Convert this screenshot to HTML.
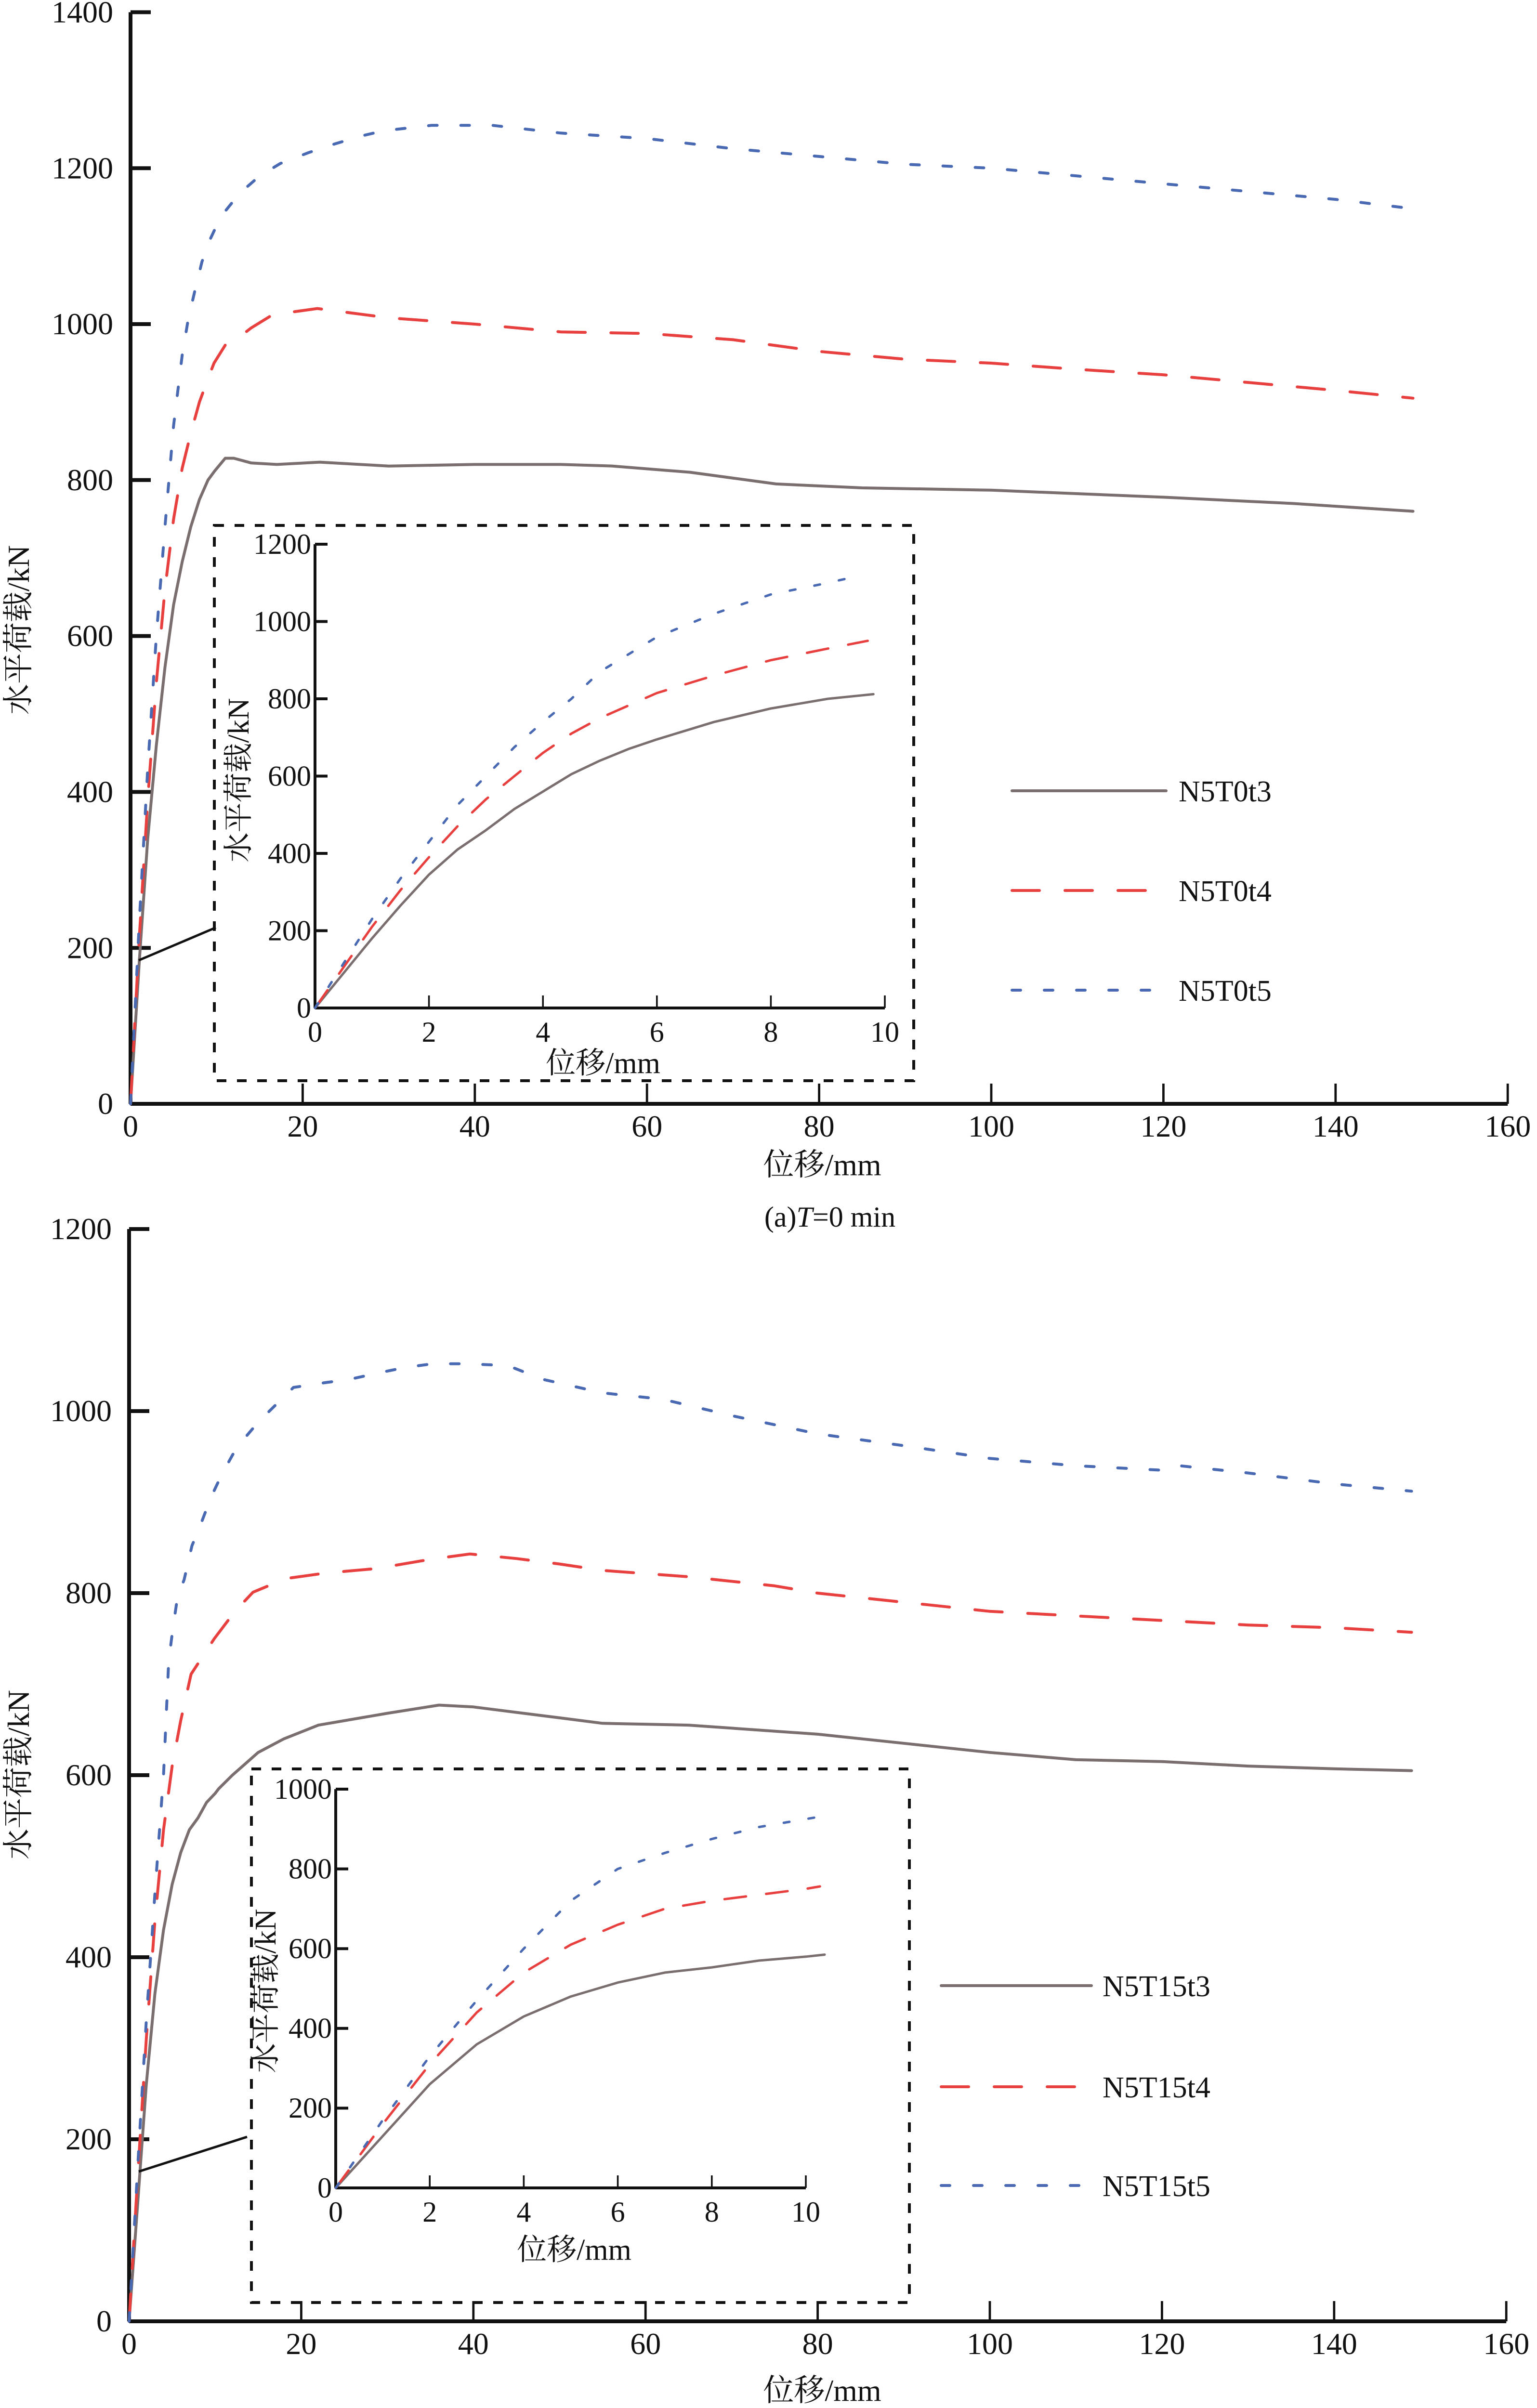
<!DOCTYPE html>
<html><head><meta charset="utf-8"><style>
html,body{margin:0;padding:0;background:#fff;width:3191px;height:5131px;overflow:hidden;}
svg{display:block;}
text{font-family:"Liberation Serif","Noto Serif CJK SC",serif;fill:#111;}
</style></head><body>
<svg id="fig" width="3191" height="5131" viewBox="0 0 3191 5131" xmlns="http://www.w3.org/2000/svg"></svg>
<script>
// ---------- data: chart (a) T=0 min ----------
const aT3X=[0,1,2,3,4,5,6,7,8,9,9.8,11,12,14,17,22,30,40,50,56,65,75,85,100,120,135,149];
const aT3Y=[0,180,340,460,560,640,695,740,775,800,812,828,828,822,820,823,818,820,820,818,810,795,790,787,778,770,760];
const aT4X=[0,1,2,3,4,5,6,7,8,9,9.7,11,12,14,16.5,21.7,30,40,50,60,70,80,90,100,110,120,130,140,149];
const aT4Y=[0,210,390,540,660,750,815,860,900,930,950,973,978,995,1012,1020,1008,1000,990,988,980,965,955,950,942,935,925,915,905];
const aT5X=[0,1,2,3,4,5,6,6.7,7.5,8.3,9.3,10.5,12.7,15,17.4,20.7,23.7,26.7,29.4,35,42,50,60,70,80,90,100,110,120,130,140,149];
const aT5Y=[0,230,430,600,740,870,960,1006,1044,1080,1110,1138,1168,1190,1206,1220,1231,1241,1248,1255,1255,1245,1238,1225,1215,1205,1200,1190,1180,1170,1160,1148];
// inset (a) data (0-10 mm)
const aiT3X=[0,0.5,1,1.5,2,2.5,3,3.5,4,4.5,5,5.5,6,7,8,9,9.8];
const aiT3Y=[0,90,180,265,345,410,460,515,560,605,640,670,695,740,775,800,812];
const aiT4X=[0,0.5,1,1.5,2,2.5,3,3.5,4,4.5,5,6,7,8,9,9.7];
const aiT4Y=[0,105,210,305,390,470,540,600,660,710,750,815,860,900,930,950];
const aiT5X=[0,0.5,1,1.5,2,2.5,3,3.5,4,4.5,5,6,7,8,9,9.3];
const aiT5Y=[0,115,230,335,430,525,600,675,740,800,870,960,1020,1070,1100,1110];
// ---------- data: chart (b) T=150 min ----------
const bT3X=[0,1,2,3,4,5,6,7,8,9,10,10.4,12,15,18,22,30,36,40,50,55,65,80,90,100,110,120,130,140,149];
const bT3Y=[0,130,260,360,430,480,515,540,553,570,580,585,600,625,640,655,668,677,675,663,657,655,645,635,625,617,615,610,607,605];
const bT4X=[0,1,2,3,4,5,6,7.2,9.9,12.3,14.4,18.2,22.8,28.7,34.9,39.6,45,50,55,65,75,80,90,100,110,120,130,140,149];
const bT4Y=[0,160,310,440,540,610,660,711,750,780,801,816,822,827,837,843,838,832,825,818,808,800,790,780,775,770,765,762,757];
const bT5X=[0,1,2,3,4,4.6,5.1,5.6,6.4,7.3,8.3,9.5,10.8,12.5,14.3,16.3,19.1,22.6,25.7,29,32.1,35.3,39.2,44,48,55,62,70,80,90,100,110,120,122,130,140,149];
const bT5Y=[0,170,330,470,600,725,762,794,815,852,875,905,931,960,980,1000,1026,1031,1035,1042,1048,1052,1052,1050,1035,1020,1013,995,975,962,948,940,935,940,932,920,912];
const biT3X=[0,1,2,3,4,5,6,7,8,9,10,10.4];
const biT3Y=[0,130,260,360,430,480,515,540,553,570,580,585];
const biT4X=[0,1,2,3,4,5,6,7,8,9,10,10.3];
const biT4Y=[0,160,310,440,540,610,660,700,720,735,750,756];
const biT5X=[0,1,2,3,4,5,6,7,8,9,10,10.5];
const biT5Y=[0,170,330,470,600,720,800,840,875,905,925,935];
// tick labels
const mainXTicks=[0,20,40,60,80,100,120,140,160];
const aMainYTicks=[0,200,400,600,800,1000,1200,1400];
const bMainYTicks=[0,200,400,600,800,1000,1200];
const insetXTicks=[0,2,4,6,8,10];
const aInsetYTicks=[0,200,400,600,800,1000,1200];
const bInsetYTicks=[0,200,400,600,800,1000];
const aNames=["N5T0t3","N5T0t4","N5T0t5"];
const bNames=["N5T15t3","N5T15t4","N5T15t5"];

const NS="http://www.w3.org/2000/svg";
const svg=document.getElementById('fig');
function mk(tag,attrs,parent,txt){const e=document.createElementNS(NS,tag);for(const k in attrs)e.setAttribute(k,attrs[k]);if(txt!==undefined)e.textContent=txt;(parent||svg).appendChild(e);return e;}
const STY=[{c:"#7a6e6e",d:null},{c:"#e8403f",d:"57 53"},{c:"#4a69b3",d:"18 49"}];
const STYI=[{c:"#7a6e6e",d:null},{c:"#e8403f",d:"45 42"},{c:"#4a69b3",d:"12 40"}];

function axes(g,o){
  const sx=v=>o.x0+(v-o.xmin)/(o.xmax-o.xmin)*(o.x1-o.x0);
  const sy=v=>o.y0-(v-o.ymin)/(o.ymax-o.ymin)*(o.y0-o.y1);
  const ax=mk('line',{x1:o.x0,y1:o.y0,x2:sx(o.xmax),y2:o.y0,stroke:"#111","stroke-width":o.sw},g);
  
  const ay=mk('line',{x1:o.x0,y1:o.y0,x2:o.x0,y2:sy(o.ymax),stroke:"#111","stroke-width":o.sw},g);
  
  o.xt.forEach(v=>{
    const t=mk('line',{x1:sx(v),y1:o.y0,x2:sx(v),y2:o.y0-o.tl,stroke:"#111","stroke-width":o.sw*0.6},g);
    
    const l=mk('text',{x:sx(v),y:o.y0+o.xly,"font-size":o.fs,"text-anchor":"middle"},g,String(v));
    
  });
  o.yt.forEach(v=>{
    const t=mk('line',{x1:o.x0,y1:sy(v),x2:o.x0+o.tl,y2:sy(v),stroke:"#111","stroke-width":o.sw},g);
    
    const l=mk('text',{x:o.x0-o.ylx,y:sy(v)+o.fs*0.33,"font-size":o.fs,"text-anchor":"end"},g,String(v));
    
  });
  return {sx,sy};
}
function series(g,sc,xs,ys,st,w,name){
  const d=xs.map((x,i)=>(i?'L':'M')+sc.sx(x).toFixed(1)+' '+sc.sy(ys[i]).toFixed(1)).join(' ');
  const p=mk('path',{d:d,fill:"none",stroke:st.c,"stroke-width":w,"stroke-linecap":"round","stroke-linejoin":"round"},g);
  if(st.d)p.setAttribute('stroke-dasharray',st.d);
  
}
function panel(P){
  const g=mk('g',{});
  
  const sc=axes(g,{pre:P.id+'-',x0:P.x0,x1:P.x0+160*17.87,y0:P.y0,y1:P.ytop,xmin:0,xmax:160,ymin:0,ymax:P.ymax,xt:mainXTicks,yt:P.yt,fs:64,sw:8,tl:42,xly:68,ylx:36});
  P.main.forEach((s,i)=>series(g,sc,s[0],s[1],STY[i],6,P.id+'-series-'+P.names[i]));
  const box=mk('rect',{x:P.box[0],y:P.box[1],width:P.box[2]-P.box[0],height:P.box[3]-P.box[1],fill:"none",stroke:"#111","stroke-width":6,"stroke-dasharray":"20 22"},g);
  
  const con=mk('line',{x1:P.con[0],y1:P.con[1],x2:P.con[2],y2:P.con[3],stroke:"#111","stroke-width":5},g);
  
  const gi=mk('g',{},g);
  
  const si=axes(gi,{pre:P.id+'-inset-',x0:P.ix0,x1:P.ix1,y0:P.iy0,y1:P.iy1,xmin:0,xmax:10,ymin:0,ymax:P.iymax,xt:insetXTicks,yt:P.iyt,fs:60,sw:6,tl:26,xly:70,ylx:8});
  P.inset.forEach((s,i)=>series(gi,si,s[0],s[1],STYI[i],5,P.id+'-inset-series-'+P.names[i]));
  let t=mk('text',{x:P.ixt[0],y:P.ixt[1],"font-size":62,"text-anchor":"middle"},gi,"位移/mm");
  
  t=mk('text',{x:0,y:0,"font-size":62,"text-anchor":"middle",transform:`translate(${P.iyt2[0]},${P.iyt2[1]}) rotate(-90)`},gi,"水平荷载/kN");
  
  t=mk('text',{x:1707,y:P.xt,"font-size":64,"text-anchor":"middle"},g,"位移/mm");
  
  t=mk('text',{x:0,y:0,"font-size":64,"text-anchor":"middle",transform:`translate(60,${P.ytc}) rotate(-90)`},g,"水平荷载/kN");
  
  t=mk('text',{x:P.cap[0],y:P.cap[1],"font-size":60,"text-anchor":"middle"},g);
  
  t.innerHTML=P.capHtml;
  P.names.forEach((n,i)=>{
    const lg=mk('g',{},g);
    
    const ln=mk('line',{x1:P.leg[0],y1:P.leg[2][i],x2:P.leg[1],y2:P.leg[2][i],stroke:STY[i].c,"stroke-width":6,"stroke-linecap":"round"},lg);
    if(STY[i].d)ln.setAttribute('stroke-dasharray',STY[i].d);
    const lt=mk('text',{x:P.leg[3],y:P.leg[2][i]+22,"font-size":62},lg,n);
    
  });
}
panel({id:'a',x0:271,y0:2292,ytop:2292-1400*1.619,ymax:1400,yt:aMainYTicks,names:aNames,
  main:[[aT3X,aT3Y],[aT4X,aT4Y],[aT5X,aT5Y]],
  box:[445,1091,1897,2244],con:[288,1994,448,1926],
  ix0:654,ix1:1837,iy0:2093,iy1:1130,iymax:1200,iyt:aInsetYTicks,
  inset:[[aiT3X,aiT3Y],[aiT4X,aiT4Y],[aiT5X,aiT5Y]],
  ixt:[1252,2228],iyt2:[516,1620],xt:2440,ytc:1308,cap:[1723,2547],
  capHtml:'(a)<tspan font-style="italic">T</tspan>=0 min',
  leg:[2101,2421,[1642,1849,2056],2447]});
panel({id:'b',x0:268,y0:4820,ytop:4820-1200*1.89,ymax:1200,yt:bMainYTicks,names:bNames,
  main:[[bT3X,bT3Y],[bT4X,bT4Y],[bT5X,bT5Y]],
  box:[522,3673,1888,4781],con:[288,4509,513,4437],
  ix0:697,ix1:1673,iy0:4543,iy1:3715,iymax:1000,iyt:bInsetYTicks,
  inset:[[biT3X,biT3Y],[biT4X,biT4Y],[biT5X,biT5Y]],
  ixt:[1192,4692],iyt2:[572,4134],xt:4985,ytc:3685,cap:[1753,5084],
  capHtml:'(b)<tspan font-style="italic">T</tspan>=150 min',
  leg:[1954,2266,[4123,4333,4538],2289]});
</script>
</body></html>
